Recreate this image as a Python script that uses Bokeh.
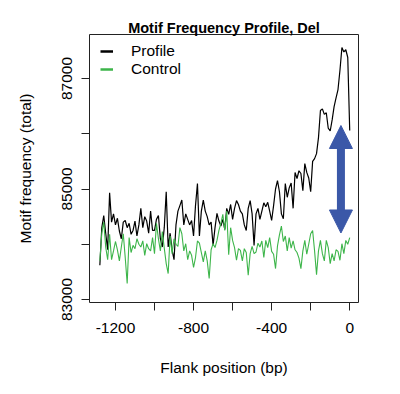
from bokeh.plotting import figure
from bokeh.models import (ColumnDataSource, FixedTicker, Legend, LegendItem,
                          Arrow, NormalHead, Range1d)
from bokeh.embed import file_html
from bokeh.resources import INLINE

# ---- data ----
positions = list(range(-1280, 1, 10))
profile = [
    83620, 84300, 84520, 84200, 83900, 84930, 84400, 84550, 84350, 84470,
    84240, 84100, 84400, 84430, 84300, 84380, 84180, 84250, 84420, 84150,
    84350, 84650, 84300, 84500, 84420, 84200, 84600, 84250, 84250, 84450,
    84520, 84100, 83950, 84300, 84950, 83950, 84200, 83900, 83720, 84350,
    84600, 84700, 84800, 84350, 84550, 84450, 84350, 84430, 84150, 84700,
    85100, 84150, 84600, 84800, 84600, 84500, 84350, 84400, 83980, 84300,
    84560, 84420, 84330, 84450, 84270, 84650, 84540, 84720, 84450, 84650,
    84790, 84720, 84600, 84550, 84350, 84250, 84650, 84790, 84550, 83980,
    84550, 84650, 84450, 84600, 84750, 84680, 84760, 84600, 84430, 84700,
    85000, 85150, 84950, 84550, 84460, 85100, 84850, 85020, 85110, 84650,
    85300, 85190, 85330, 85280, 84970, 85460, 85300, 85200, 84950, 85500,
    85550, 85640, 85930, 86420, 86450, 86350, 86380, 86100, 86050, 86250,
    86490, 86650, 86800, 87150, 87560, 87480, 87520, 87380, 86060,
]
control = [
    83700, 84200, 84400, 83950, 83720, 84180, 83720, 83880, 84050, 83900,
    83700, 83950, 84190, 83760, 83290, 84120, 83850, 83980, 83920, 84100,
    84000, 83950, 84060, 83800, 84010, 83920, 83880, 84120, 83830, 84380,
    84100, 83880, 84230, 83930, 83650, 83470, 84150, 83830, 84100, 84000,
    83960, 84300, 84190, 83880, 84010, 83720, 83880, 83800, 83580, 83760,
    84060, 84020, 83850, 83680, 83880, 83700, 83380, 83900, 84010, 83940,
    84070, 84250, 84380, 84540, 84250, 84600, 83810, 84300, 84070, 83940,
    83710, 83920, 83890, 83700, 83920, 83850, 83440, 83830, 83960, 83830,
    83860, 84020, 83950, 84060, 83760, 84070, 83940, 84120, 83870, 83820,
    83560, 83970, 84170, 84330, 84050, 84150, 83880, 84120, 83930, 84060,
    83900, 83850, 83750, 83560, 83880, 84070, 83820, 84000, 84190, 84250,
    83880, 83450, 83880, 84070, 83830, 83700, 84070, 83940, 83650, 83830,
    83700, 83900, 83870, 83710, 84010, 83830, 84070, 84000, 84120,
]
x_ticks = [-1200, -1000, -800, -600, -400, -200, 0]
x_tick_labels = ["-1200", "", "-800", "", "-400", "", "0"]
y_ticks = [83000, 84000, 85000, 86000, 87000]
y_tick_labels = ["83000", "", "85000", "", "87000"]

# annotation arrow (data coords)
arrow_x = -45
arrow_bottom = 84204
arrow_top = 86149

FONT = "Liberation Sans"
GREEN = "#3DB54A"
BLUE = "#3B58A8"

p = figure(frame_width=269, frame_height=268, output_backend="svg",
           toolbar_location=None,
           x_range=Range1d(-1333, 45), y_range=Range1d(82946, 87796),
           min_border_left=89, min_border_right=42,
           min_border_top=34, min_border_bottom=92,
           title="Motif Frequency Profile, Del")

p.title.text_font = FONT
p.title.text_font_size = "14.5px"
p.title.text_font_style = "bold"
p.title.text_color = "black"
p.title.align = "center"
p.title.standoff = -2

src = ColumnDataSource(dict(x=positions, profile=profile, control=control))
p.line("x", "profile", source=src, line_color="black", line_width=1.2)
p.line("x", "control", source=src, line_color=GREEN, line_width=1.1)

# legend sample renderers (thicker lines, no visible data)
nan = float("nan")
empty = ColumnDataSource(dict(x=[nan], y=[nan]))
r_leg1 = p.line("x", "y", source=empty, line_color="black", line_width=2.5)
r_leg2 = p.line("x", "y", source=empty, line_color=GREEN, line_width=2.5)
legend = Legend(items=[LegendItem(label="Profile", renderers=[r_leg1]),
                       LegendItem(label="Control", renderers=[r_leg2])],
                location=(11, 224), padding=0, margin=0, spacing=0,
                glyph_width=13, glyph_height=18, label_height=18,
                label_standoff=18, border_line_color=None,
                background_fill_alpha=0,
                label_text_font=FONT, label_text_font_size="15.5px",
                label_text_color="black")
p.add_layout(legend, "center")

head_kw = dict(size=23, fill_color=BLUE, line_color=BLUE)
p.add_layout(Arrow(x_start=arrow_x, y_start=arrow_bottom,
                   x_end=arrow_x, y_end=arrow_top,
                   start=NormalHead(**head_kw), end=NormalHead(**head_kw),
                   line_color=BLUE, line_width=8))

p.xgrid.visible = False
p.ygrid.visible = False
p.outline_line_color = "#222222"
p.outline_line_width = 1

for ax in (p.xaxis[0], p.yaxis[0]):
    ax.axis_line_color = None
    ax.major_tick_in = 0
    ax.major_tick_out = 8
    ax.major_tick_line_color = "#222222"
    ax.minor_tick_line_color = None
    ax.major_label_text_font = FONT
    ax.major_label_text_font_size = "15.5px"
    ax.major_label_text_color = "black"
    ax.axis_label_text_font = FONT
    ax.axis_label_text_font_size = "15.5px"
    ax.axis_label_text_font_style = "normal"
    ax.axis_label_text_color = "black"

p.xaxis[0].ticker = FixedTicker(ticks=x_ticks)
p.xaxis[0].major_label_overrides = dict(zip(x_ticks, x_tick_labels))
p.xaxis[0].axis_label = "Flank position (bp)"
p.xaxis[0].major_label_standoff = 12
p.xaxis[0].axis_label_standoff = 23

p.yaxis[0].ticker = FixedTicker(ticks=y_ticks)
p.yaxis[0].major_label_overrides = dict(zip(y_ticks, y_tick_labels))
p.yaxis[0].axis_label = "Motif frequency (total)"
p.yaxis[0].major_label_orientation = "vertical"
p.yaxis[0].major_label_standoff = 9
p.yaxis[0].axis_label_standoff = 26

open("out.html", "w").write(file_html(p, INLINE))
